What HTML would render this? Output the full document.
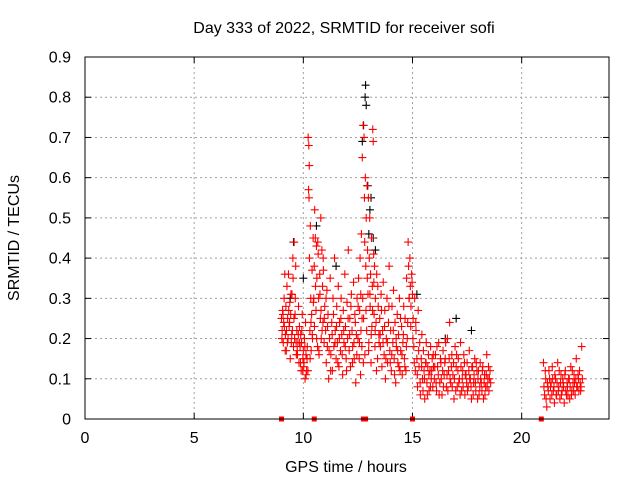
<!DOCTYPE html>
<html><head><meta charset="utf-8"><style>
html,body{margin:0;padding:0;background:#fff;}
svg{display:block;font-family:"Liberation Sans",sans-serif;font-size:16px;}
</style></head><body>
<svg id="chart" width="640" height="480">
<text x="344" y="33" text-anchor="middle">Day 333 of 2022, SRMTID for receiver sofi</text>
<text x="346" y="472" text-anchor="middle">GPS time / hours</text>
<text transform="translate(19,238) rotate(-90)" text-anchor="middle">SRMTID / TECUs</text>
<g id="grid"></g>
<g id="ticks"></g>
<g id="black"></g>
<g id="red"></g>
<g id="marks"></g>
<rect x="85" y="57" width="524" height="362" fill="none" stroke="#000" stroke-width="1"/>
</svg>
<script>
const xTicks=[0,5,10,15,20];
const yTicks=[0,0.1,0.2,0.3,0.4,0.5,0.6,0.7,0.8,0.9];
const yTickLabels=["0","0.1","0.2","0.3","0.4","0.5","0.6","0.7","0.8","0.9"];
const redT=[9.00,9.03,9.05,9.08,9.10,9.12,9.15,9.18,9.20,9.22,9.25,9.28,9.30,9.32,9.35,9.38,9.40,9.42,9.45,9.48,9.50,9.52,9.55,9.58,9.60,9.62,9.65,9.68,9.70,9.72,9.75,9.78,9.80,9.82,9.85,9.88,9.90,9.92,9.95,9.98,10.00,10.02,10.05,10.08,10.10,10.12,10.15,10.18,
9.02,9.07,9.13,9.17,9.23,9.27,9.33,9.37,9.43,9.47,9.53,9.57,9.63,9.67,9.73,9.77,9.83,9.87,9.93,9.97,10.03,10.07,10.13,10.17,
10.22,10.24,10.25,10.27,10.28,10.30,10.32,10.34,10.36,10.38,10.40,10.42,10.45,10.48,10.50,10.52,10.55,10.58,10.60,10.62,10.65,10.68,10.70,10.72,10.75,10.78,10.80,10.82,10.85,10.88,10.90,10.92,10.95,10.98,
10.21,10.26,10.31,10.35,10.41,10.46,10.51,10.56,10.61,10.66,10.71,10.76,10.81,10.86,10.91,10.96,
11.02,11.05,11.08,11.10,11.13,11.16,11.20,11.23,11.26,11.30,11.33,11.36,11.40,11.43,11.46,11.50,11.53,11.56,11.60,11.63,11.66,11.70,11.73,11.76,11.80,11.83,11.86,11.90,11.93,11.96,12.00,12.03,12.06,12.10,12.13,12.16,12.20,12.23,12.26,12.30,12.33,12.36,12.40,12.43,12.46,
11.04,11.11,11.18,11.25,11.32,11.38,11.45,11.52,11.58,11.65,11.72,11.78,11.85,11.92,11.98,12.05,12.12,12.18,12.25,12.32,12.38,12.45,
12.50,12.53,12.56,12.58,12.60,12.62,12.64,12.66,12.68,12.70,12.72,12.74,12.76,12.78,12.80,12.82,12.84,12.86,12.88,12.90,12.92,12.94,12.96,12.98,13.00,13.02,13.04,13.06,13.08,13.10,13.12,13.14,13.16,13.18,13.20,13.22,13.24,13.26,13.28,13.30,13.33,13.36,13.40,13.43,13.46,
12.51,12.57,12.63,12.69,12.75,12.81,12.87,12.93,12.99,13.05,13.11,13.17,13.23,13.29,13.35,13.41,13.47,
13.50,13.53,13.56,13.60,13.63,13.66,13.70,13.73,13.76,13.80,13.83,13.86,13.90,13.93,13.96,14.00,14.03,14.06,14.10,14.13,14.16,14.20,14.23,14.26,14.30,14.33,14.36,14.40,14.43,14.46,14.50,14.53,14.56,14.60,14.63,14.66,14.70,14.73,14.76,14.80,14.82,14.85,14.88,14.90,14.93,14.96,
13.52,13.58,13.65,13.72,13.78,13.85,13.92,13.98,14.05,14.12,14.18,14.25,14.32,14.38,14.45,14.52,14.58,14.65,14.72,14.78,14.84,14.92,14.98,
15.00,15.03,15.06,15.10,15.13,15.16,15.20,15.23,15.26,15.30,15.33,15.36,15.40,15.43,15.46,15.50,15.53,15.56,15.60,15.63,15.66,15.70,15.73,15.76,15.80,15.83,15.86,15.90,15.93,15.96,
15.02,15.08,15.15,15.22,15.28,15.35,15.42,15.48,15.55,15.62,15.68,15.75,15.82,15.88,15.95,
16.00,16.05,16.10,16.15,16.20,16.25,16.30,16.35,16.40,16.45,16.50,16.55,16.60,16.65,16.70,16.75,16.80,16.85,16.90,16.95,17.00,17.05,17.10,17.15,17.20,17.25,17.30,17.35,17.40,17.45,17.50,17.55,17.60,17.65,17.70,17.75,17.80,17.85,17.90,17.95,18.00,18.05,18.10,18.15,18.20,18.25,18.30,18.35,18.40,18.45,18.50,18.55,
16.02,16.08,16.12,16.18,16.22,16.28,16.32,16.38,16.42,16.48,16.52,16.58,16.62,16.68,16.72,16.78,16.82,16.88,16.92,16.98,17.02,17.08,17.12,17.18,17.22,17.28,17.32,17.38,17.42,17.48,17.52,17.58,17.62,17.68,17.72,17.78,17.82,17.88,17.92,17.98,18.02,18.08,18.12,18.18,18.22,18.28,18.32,18.38,18.42,18.48,18.52,18.58,
21.00,21.05,21.10,21.15,21.20,21.25,21.30,21.35,21.40,21.45,21.50,21.55,21.60,21.65,21.70,21.75,21.80,21.85,21.90,21.95,22.00,22.05,22.10,22.15,22.20,22.25,22.30,22.35,22.40,22.45,22.50,22.55,22.60,22.65,22.70,22.75,
21.02,21.08,21.12,21.18,21.22,21.28,21.32,21.38,21.42,21.48,21.52,21.58,21.62,21.68,21.72,21.78,21.82,21.88,21.92,21.98,22.02,22.08,22.12,22.18,22.22,22.28,22.32,22.38,22.42,22.48,22.52,22.58,22.62,22.68,22.72,22.78];
const redV=[.25,.22,.27,.19,.24,.30,.36,.21,.28,.17,.33,.25,.20,.36,.23,.29,.15,.26,.19,.31,.22,.40,.18,.44,.20,.26,.38,.16,.22,.17,.19,.28,.14,.23,.18,.21,.12,.19,.26,.15,.17,.13,.20,.10,.24,.16,.12,.18,
.20,.26,.23,.17,.22,.19,.27,.24,.31,.21,.35,.25,.30,.19,.16,.21,.19,.14,.22,.12,.14,.18,.11,.15,
.70,.57,.68,.63,.40,.22,.48,.30,.17,.26,.37,.20,.45,.30,.38,.52,.45,.27,.43,.35,.18,.41,.30,.16,.36,.25,.50,.20,.42,.33,.24,.37,.19,.28,
.12,.55,.15,.24,.21,.29,.23,.33,.20,.44,.17,.31,.27,.22,.40,.25,
.22,.14,.32,.18,.26,.10,.20,.35,.16,.24,.12,.30,.18,.40,.22,.15,.28,.19,.33,.13,.24,.17,.30,.21,.11,.27,.19,.36,.23,.15,.29,.20,.42,.17,.25,.13,.31,.22,.18,.34,.15,.26,.09,.21,.30,
.30,.23,.17,.12,.21,.26,.19,.23,.14,.20,.25,.16,.22,.18,.12,.25,.21,.28,.14,.19,.24,.16,
.20,.35,.15,.27,.40,.11,.22,.46,.18,.65,.30,.73,.25,.70,.55,.16,.60,.38,.50,.22,.58,.42,.31,.55,.19,.40,.50,.28,.36,.14,.45,.23,.33,.72,.69,.41,.26,.38,.18,.30,.24,.36,.15,.28,.21,
.28,.19,.31,.25,.14,.44,.27,.35,.17,.31,.21,.27,.34,.22,.12,.33,.19,
.25,.18,.31,.13,.22,.34,.16,.27,.10,.20,.30,.14,.24,.38,.17,.22,.12,.28,.19,.32,.15,.24,.09,.18,.26,.14,.21,.30,.12,.17,.23,.11,.19,.28,.15,.25,.12,.35,.20,.44,.38,.30,.40,.33,.28,.36,
.21,.27,.19,.23,.15,.19,.28,.14,.16,.22,.11,.20,.17,.13,.25,.16,.21,.13,.18,.24,.30,.23,.34,
.31,.25,.18,.30,.12,.22,.15,.08,.27,.13,.19,.06,.15,.21,.10,.17,.12,.05,.14,.19,.09,.13,.16,.07,.12,.18,.10,.15,.08,.13,
.20,.14,.24,.11,.17,.09,.13,.07,.10,.14,.06,.11,.08,.12,.16,
.10,.16,.07,.13,.19,.09,.14,.06,.17,.11,.15,.08,.20,.12,.24,.09,.16,.11,.05,.18,.13,.08,.15,.10,.19,.07,.12,.16,.06,.11,.14,.08,.17,.10,.05,.13,.09,.15,.07,.12,.10,.06,.14,.09,.12,.05,.11,.08,.16,.10,.07,.12,
.13,.09,.18,.11,.06,.15,.10,.12,.08,.14,.19,.11,.07,.15,.10,.13,.08,.14,.10,.07,.16,.12,.09,.06,.13,.10,.08,.14,.11,.09,.07,.12,.10,.08,.13,.06,.11,.09,.14,.05,.12,.08,.10,.07,.13,.09,.06,.11,.08,.13,.10,.09,
.14,.06,.10,.03,.08,.12,.05,.09,.13,.07,.04,.10,.06,.14,.08,.05,.11,.07,.09,.04,.12,.06,.08,.10,.05,.13,.07,.09,.11,.06,.15,.08,.10,.12,.07,.18,
.08,.12,.05,.09,.07,.10,.08,.06,.10,.08,.11,.06,.09,.07,.12,.09,.06,.10,.08,.11,.07,.09,.06,.10,.08,.06,.12,.07,.09,.10,.08,.11,.07,.09,.08,.10];
const blackT=[12.85,12.83,12.88,12.76,12.95,13.10,9.55,10.60,13.20,13.30,11.50,17.00,17.70,15.20,10.00,13.00,16.50,9.40,12.70,13.05];
const blackV=[.83,.80,.78,.73,.58,.55,.44,.48,.45,.42,.38,.25,.22,.31,.35,.46,.20,.30,.69,.52];
const gapT=[9.0,10.5,12.75,12.85,15.0,20.9];

const NS="http://www.w3.org/2000/svg";
const X0=85,X1=609,Y0=419,Y1=57,XMAX=24,YMAX=0.9;
function xs(t){return X0+(t/XMAX)*(X1-X0);}
function ys(v){return Y0-(v/YMAX)*(Y0-Y1);}
function mk(tag,attrs,parent){const e=document.createElementNS(NS,tag);for(const k in attrs)e.setAttribute(k,attrs[k]);parent.appendChild(e);return e;}
const grid=document.getElementById('grid'),ticks=document.getElementById('ticks');
xTicks.forEach(t=>{
  const x=xs(t);
  if(t>0){const g=mk('line',{x1:x,x2:x,y1:Y1,y2:Y0,stroke:'#a0a0a0','stroke-dasharray':'2,3'},grid);
  
  }
  mk('line',{x1:x,x2:x,y1:Y0,y2:Y0-6,stroke:'#000'},ticks);
  mk('line',{x1:x,x2:x,y1:Y1,y2:Y1+6,stroke:'#000'},ticks);
  const l=mk('text',{x:x,y:443,'text-anchor':'middle'},ticks);l.textContent=String(t);
  
  
});
yTicks.forEach((v,i)=>{
  const y=ys(v);
  if(v>0){const g=mk('line',{x1:X0,x2:X1,y1:y,y2:y,stroke:'#a0a0a0','stroke-dasharray':'2,3'},grid);
  
  }
  mk('line',{x1:X0,x2:X0+6,y1:y,y2:y,stroke:'#000'},ticks);
  mk('line',{x1:X1,x2:X1-6,y1:y,y2:y,stroke:'#000'},ticks);
  const l=mk('text',{x:71,y:y+5.5,'text-anchor':'end'},ticks);l.textContent=yTickLabels[i];
  
  
});
function plus(g,t,v,col,name){
  const x=xs(t),y=ys(v);
  const p=mk('path',{d:`M${x-4},${y}H${x+4}M${x},${y-4}V${y+4}`,stroke:col,'stroke-width':1.1,fill:'none'},g);
  
  
}
const bg=document.getElementById('black'),rg=document.getElementById('red');
blackT.forEach((t,i)=>plus(bg,t,blackV[i],'#000','black-point'));
redT.forEach((t,i)=>plus(rg,t,redV[i],'#ff0000','red-point'));
const mg=document.getElementById('marks');
gapT.forEach(t=>{
  const r=mk('rect',{x:xs(t)-2.5,y:Y0-2.5,width:5,height:5,fill:'#ff0000'},mg);
  
  
});
</script>
</body></html>
